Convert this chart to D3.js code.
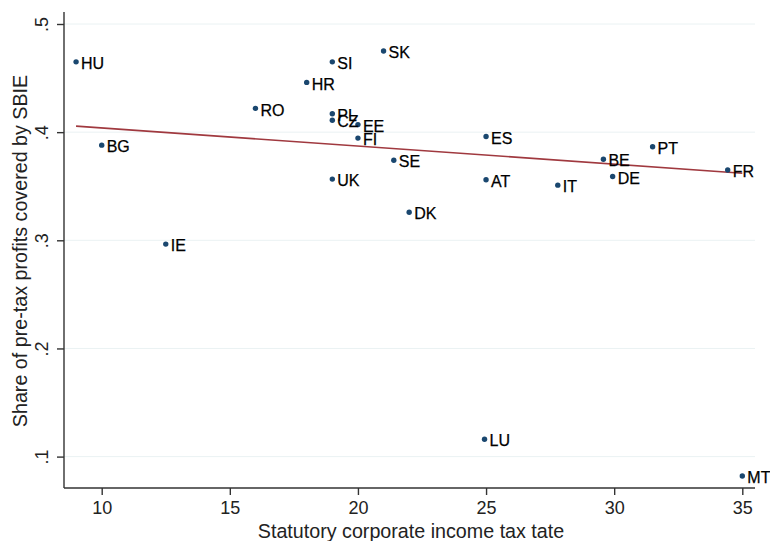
<!DOCTYPE html>
<html>
<head>
<meta charset="utf-8">
<script src="https://cdn.jsdelivr.net/npm/d3@7"></script>
<style>
  html, body { margin: 0; padding: 0; background: #fff; }
  svg { display: block; font-family: "Liberation Sans", Arial, sans-serif; }
</style>
</head>
<body>
<svg id="chart" width="770" height="541"></svg>
<script>
// Country codes, statutory CIT rate (%) and SBIE share of pre-tax profits
const countries = ["HU","BG","IE","RO","HR","SI","PL","CZ","UK","EE","FI","SK","SE","DK","ES","AT","LU","IT","BE","DE","PT","FR","MT"];
const taxRate   = [9, 10, 12.5, 16, 18, 19, 19, 19, 19, 20, 20, 21, 21.4, 22, 25, 25, 24.94, 27.8, 29.58, 29.94, 31.5, 34.43, 35];
const sbieShare = [0.465, 0.388, 0.2965, 0.422, 0.446, 0.465, 0.417, 0.411, 0.3566, 0.407, 0.3945, 0.475, 0.374, 0.326, 0.396, 0.356, 0.116, 0.351, 0.375, 0.359, 0.3865, 0.365, 0.082];

// Fitted values of the linear trend at the ends of the sample
const fitX = [9, 35];
const fitY = [0.4056, 0.3620];

const xTicks = [10, 15, 20, 25, 30, 35];
const yTicks = [0.1, 0.2, 0.3, 0.4, 0.5];
const yTickLabels = [".1", ".2", ".3", ".4", ".5"];

const svg = d3.select("#chart");

const x = d3.scaleLinear().domain([10, 35]).range([101.7, 742.3]);
const y = d3.scaleLinear().domain([0.1, 0.5]).range([456.6, 24]);

const axisX = 64, axisY = 488, plotRight = 755, plotTop = 12;

// Gridlines
svg.append("g")
  .selectAll("line")
  .data(yTicks)
  .join("line")
  .attr("x1", axisX).attr("x2", plotRight)
  .attr("y1", d => y(d)).attr("y2", d => y(d))
  .attr("stroke", "#eaf2f3").attr("stroke-width", 1);

// Y axis
const yAxis = svg.append("g")
  .attr("transform", `translate(${axisX},0)`)
  .call(d3.axisLeft(y).tickValues(yTicks).tickSize(7).tickPadding(8)
        .tickFormat((d, i) => yTickLabels[i]));
yAxis.select(".domain").attr("d", `M0,${plotTop}V${axisY}`).attr("stroke", "#333").attr("stroke-width", 1.4);
yAxis.selectAll(".tick line").attr("stroke", "#333").attr("stroke-width", 1.4);
yAxis.selectAll(".tick text")
  .attr("font-size", 18).attr("fill", "#222")
  .attr("text-anchor", "middle")
  .attr("x", 0).attr("dy", 0)
  .attr("transform", "translate(-16,0) rotate(-90)");

// X axis
const xAxis = svg.append("g")
  .attr("transform", `translate(0,${axisY})`)
  .call(d3.axisBottom(x).tickValues(xTicks).tickSize(7).tickPadding(6));
xAxis.select(".domain").attr("d", `M${axisX},0H${plotRight}`).attr("stroke", "#333").attr("stroke-width", 1.4);
xAxis.selectAll(".tick line").attr("stroke", "#333").attr("stroke-width", 1.4);
xAxis.selectAll(".tick text").attr("font-size", 18).attr("fill", "#222");

// Axis titles
svg.append("text")
  .attr("x", 411).attr("y", 538)
  .attr("text-anchor", "middle")
  .attr("font-size", 19.7).attr("fill", "#222")
  .text("Statutory corporate income tax tate");

svg.append("text")
  .attr("transform", "translate(26.5,251) rotate(-90)")
  .attr("text-anchor", "middle")
  .attr("font-size", 19.7).attr("fill", "#222")
  .text("Share of pre-tax profits covered by SBIE");

// Fitted line
svg.append("path")
  .datum(fitX.map((d, i) => [d, fitY[i]]))
  .attr("d", d3.line().x(d => x(d[0])).y(d => y(d[1])))
  .attr("fill", "none")
  .attr("stroke", "#a0393f")
  .attr("stroke-width", 1.6);

// Points and labels
const pts = countries.map((c, i) => ({ c, x: taxRate[i], y: sbieShare[i] }));
const g = svg.append("g");
g.selectAll("circle")
  .data(pts)
  .join("circle")
  .attr("cx", d => x(d.x)).attr("cy", d => y(d.y))
  .attr("r", 2.7)
  .attr("fill", "#1a476f");
g.selectAll("text")
  .data(pts)
  .join("text")
  .attr("x", d => x(d.x) + 5).attr("y", d => y(d.y))
  .attr("dy", "0.45em")
  .attr("font-size", 16)
  .attr("fill", "#000")
  .attr("stroke", "#000").attr("stroke-width", 0.25)
  .text(d => d.c);
</script>
</body>
</html>
